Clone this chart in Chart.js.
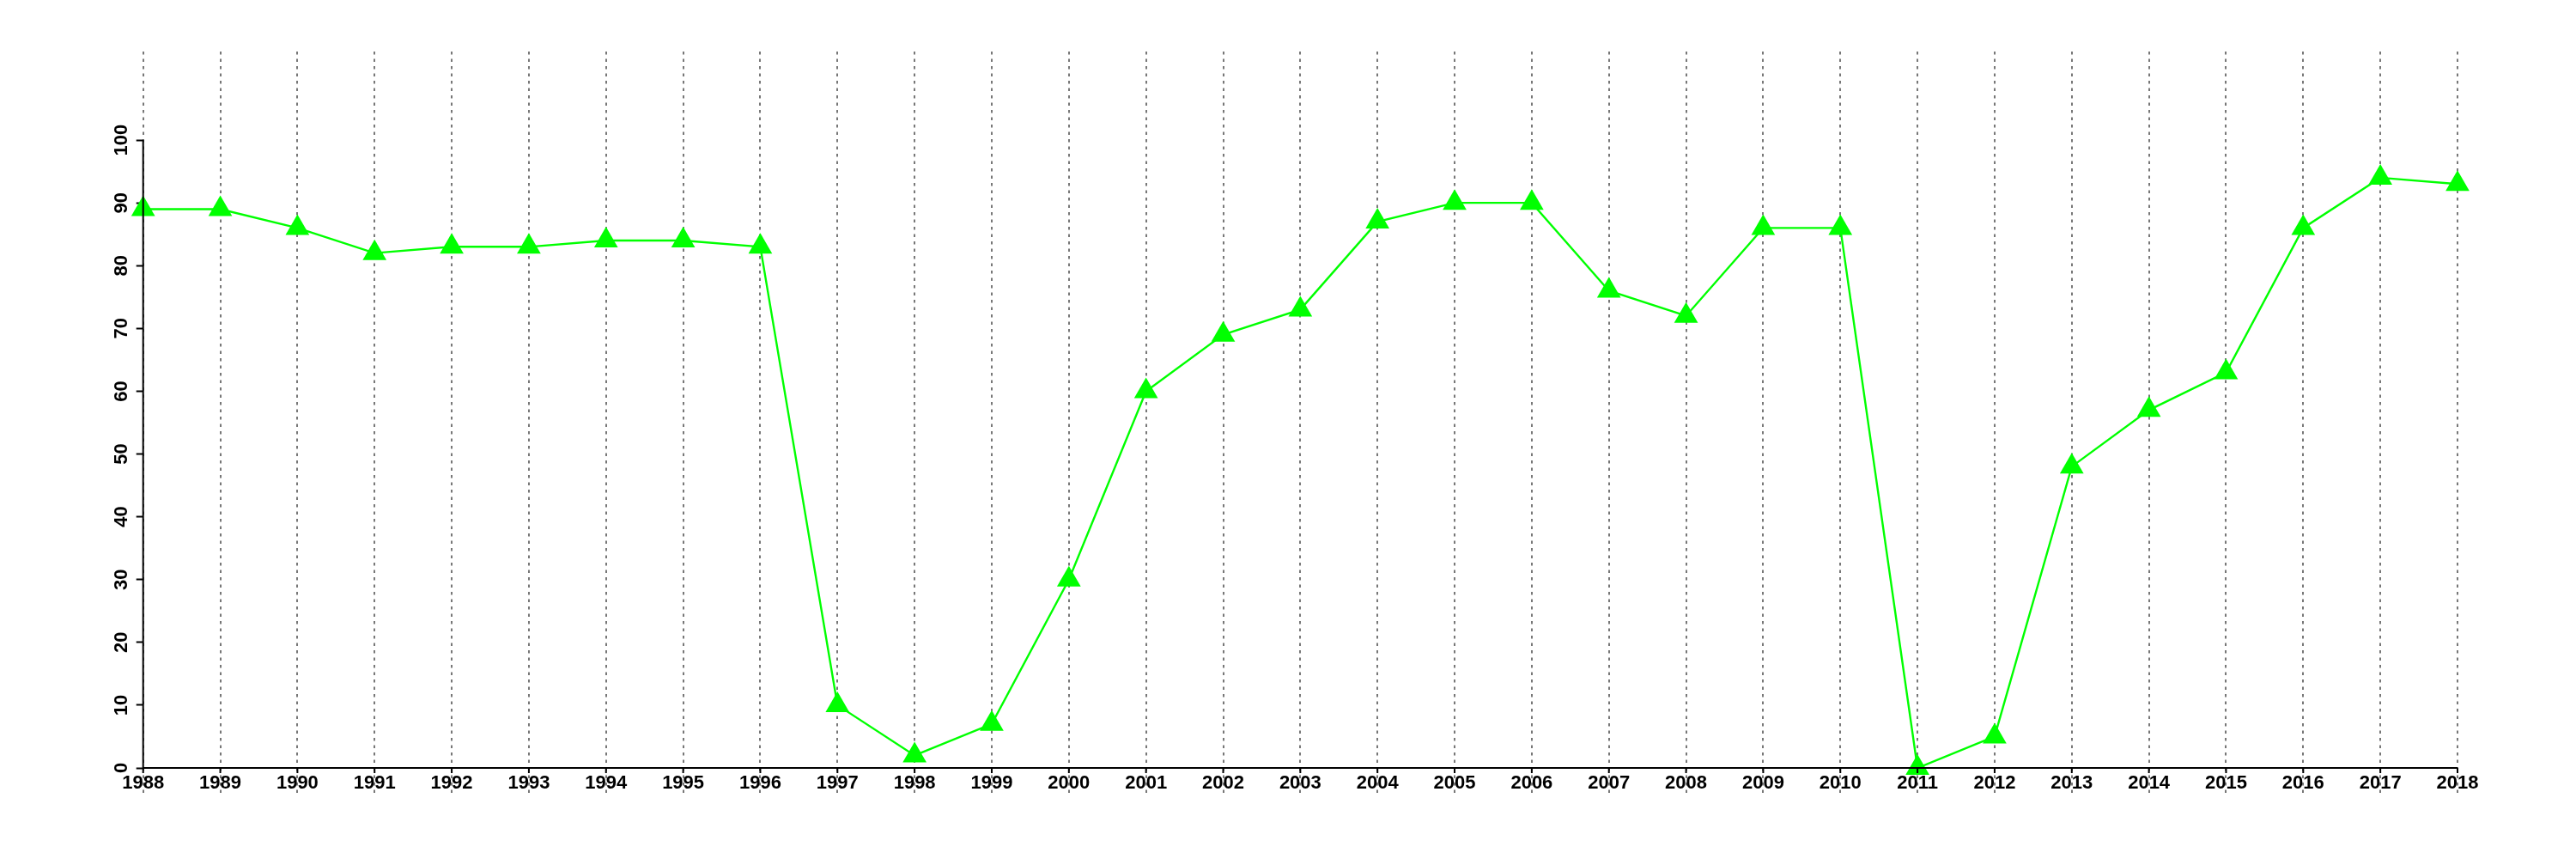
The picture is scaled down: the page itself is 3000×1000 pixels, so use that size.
<!DOCTYPE html>
<html>
<head>
<meta charset="utf-8">
<script src="https://cdn.jsdelivr.net/npm/chart.js@4/dist/chart.umd.min.js"></script>
<style>
  body { margin: 0; background: #fff; }
  #wrap { width: 3000px; height: 1000px; }
</style>
</head>
<body>
<div id="wrap"><canvas id="lineChart" width="3000" height="1000"></canvas></div>
<script>
// years on the x axis
const years = ['1988', '1989', '1990', '1991', '1992', '1993', '1994', '1995', '1996', '1997',
  '1998', '1999', '2000', '2001', '2002', '2003', '2004', '2005', '2006', '2007',
  '2008', '2009', '2010', '2011', '2012', '2013', '2014', '2015', '2016', '2017', '2018'];

// values
const values = [89, 89, 86, 82, 83, 83, 84, 84, 83, 10,
  2, 7, 30, 60, 69, 73, 87, 90, 90, 76,
  72, 86, 86, 0, 5, 48, 57, 63, 86, 94, 93];

// y tick labels 0..100
const yTickMin = 0;
const yTickMax = 100;
const yTickStep = 10;

const LABEL_FONT = { family: "'Liberation Sans', Arial, sans-serif", size: 22, weight: 'bold' };

// axis lines drawn like R: only from first to last tick, on top of the points
const axisLines = {
    id: 'axisLines',
    afterDatasetsDraw(chart) {
        const ctx = chart.ctx;
        const x = chart.scales.x;
        const y = chart.scales.y;
        const y0 = y.getPixelForValue(yTickMin);
        const yTop = y.getPixelForValue(yTickMax);
        const xFirst = x.getPixelForTick(0);
        const xLast = x.getPixelForTick(years.length - 1);
        ctx.save();
        ctx.strokeStyle = '#000';
        ctx.lineWidth = 2;
        ctx.beginPath();
        ctx.moveTo(xFirst, y0);
        ctx.lineTo(xLast, y0);
        ctx.moveTo(xFirst, y0);
        ctx.lineTo(xFirst, yTop);
        for (let i = 0; i < years.length; i++) {
            const px = x.getPixelForTick(i);
            ctx.moveTo(px, y0);
            ctx.lineTo(px, y0 + 6);
        }
        ctx.stroke();
        ctx.restore();
    }
};

const config = {
    type: 'line',
    data: {
        labels: years,
        datasets: [{
            data: values,
            borderColor: '#00ff00',
            backgroundColor: '#00ff00',
            borderWidth: 2.4,
            pointStyle: 'triangle',
            pointRadius: 16,
            pointHoverRadius: 16,
            pointBorderWidth: 0,
            pointBackgroundColor: '#00ff00',
            tension: 0,
            fill: false,
            clip: false
        }]
    },
    options: {
        responsive: false,
        animation: false,
        events: [],
        layout: {
            padding: { left: 106.7, right: 138, top: 60, bottom: 0 }
        },
        plugins: {
            legend: { display: false },
            tooltip: { enabled: false }
        },
        scales: {
            x: {
                type: 'category',
                offset: false,
                border: { display: false, dash: [3.5, 5] },
                grid: {
                    display: true,
                    drawOnChartArea: true,
                    color: '#777777',
                    lineWidth: 2,
                    drawTicks: true,
                    tickLength: 33,
                    tickColor: '#777777',
                    tickWidth: 2,
                    tickBorderDash: [3.5, 5]
                },
                ticks: {
                    autoSkip: false,
                    maxRotation: 0,
                    minRotation: 0,
                    padding: -28,
                    color: '#000',
                    font: LABEL_FONT
                },
                afterFit(scale) { scale.height = 106; }
            },
            y: {
                min: yTickMin,
                max: 114.1,
                border: { display: false },
                grid: {
                    display: true,
                    drawOnChartArea: false,
                    drawTicks: true,
                    tickLength: 8,
                    tickColor: '#000',
                    tickWidth: 2
                },
                ticks: {
                    stepSize: yTickStep,
                    minRotation: 90,
                    maxRotation: 90,
                    crossAlign: 'center',
                    padding: -2,
                    color: '#000',
                    font: LABEL_FONT
                },
                afterBuildTicks(scale) {
                    scale.ticks = scale.ticks.filter(t => t.value >= yTickMin && t.value <= yTickMax);
                },
                afterFit(scale) { scale.width = 60; }
            }
        }
    },
    plugins: [axisLines]
};

const ctx = document.getElementById('lineChart').getContext('2d');
const myChart = new Chart(ctx, config);
</script>
</body>
</html>
